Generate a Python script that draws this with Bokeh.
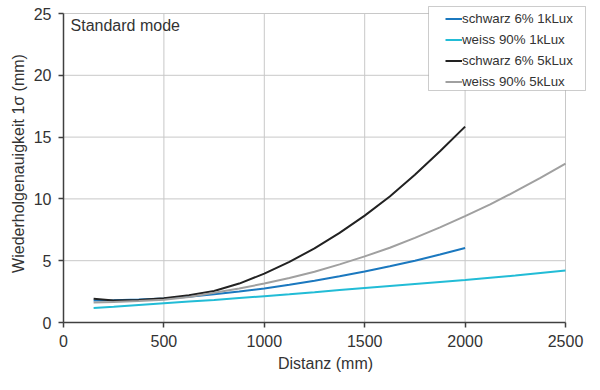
from bokeh.plotting import figure
from bokeh.models import Legend, LegendItem, Label, BoxAnnotation, Range1d, FixedTicker
from bokeh.embed import file_html
from bokeh.resources import INLINE

# Distances (mm)
dist_to_2000 = [150, 250, 375, 500, 625, 750, 875, 1000, 1125, 1250, 1375, 1500,
                1625, 1750, 1875, 2000]
dist_to_2500 = dist_to_2000 + [2125, 2250, 2375, 2500]

# Repeatability 1 sigma (mm)
schwarz_1k = [1.78, 1.80, 1.87, 1.95, 2.08, 2.28, 2.50, 2.76, 3.05, 3.38, 3.74, 4.13,
              4.55, 5.00, 5.50, 6.02]
weiss_1k = [1.18, 1.27, 1.41, 1.55, 1.69, 1.83, 1.98, 2.13, 2.28, 2.45, 2.63, 2.80,
            2.96, 3.12, 3.28, 3.44, 3.62, 3.80, 4.00, 4.20]
schwarz_5k = [1.92, 1.78, 1.82, 1.97, 2.20, 2.55, 3.15, 3.95, 4.90, 6.00, 7.25, 8.65,
              10.20, 11.95, 13.85, 15.85]
weiss_5k = [1.62, 1.65, 1.73, 1.85, 2.07, 2.40, 2.75, 3.15, 3.60, 4.10, 4.70, 5.35,
            6.05, 6.85, 7.70, 8.60, 9.55, 10.60, 11.70, 12.85]

series_names = ["schwarz 6% 1kLux", "weiss 90% 1kLux", "schwarz 6% 5kLux", "weiss 90% 5kLux"]
x_ticks = [0, 500, 1000, 1500, 2000, 2500]
y_ticks = [0, 5, 10, 15, 20, 25]

FONT = "Liberation Sans"
TXT = "#333333"

# frame: x 63..587 px, y 4..322 px; data 0..2500 maps to 63..565, 0..25 to 322..13
x_end = x_ticks[-1] * (587 - 63) / (565 - 63)
y_end = y_ticks[-1] * (322 - 4) / (322 - 13)

p = figure(width=592, height=382, output_backend="svg", toolbar_location=None,
           x_range=Range1d(0, x_end), y_range=Range1d(0, y_end),
           min_border_left=63, min_border_right=5, min_border_top=4, min_border_bottom=60)
p.outline_line_color = None
p.background_fill_color = "white"
p.xgrid.visible = False
p.ygrid.visible = False

# grid lines limited to the data area (0..2500, 0..25)
n_x = len(x_ticks)
n_y = len(y_ticks)
p.segment(x0=x_ticks, y0=[y_ticks[0]] * n_x, x1=x_ticks, y1=[y_ticks[-1]] * n_x,
          line_color="#c8c8c8", line_width=1)
p.segment(x0=[x_ticks[0]] * n_y, y0=y_ticks, x1=[x_ticks[-1]] * n_y, y1=y_ticks,
          line_color="#c8c8c8", line_width=1)

for ax in (p.xaxis[0], p.yaxis[0]):
    ax.axis_line_color = "#404040"
    ax.axis_line_width = 1.5
    ax.major_tick_line_color = "#404040"
    ax.major_tick_line_width = 1.5
    ax.major_tick_in = 0
    ax.major_tick_out = 5
    ax.minor_tick_line_color = None
    ax.major_label_text_font = FONT
    ax.major_label_text_font_size = "16px"
    ax.major_label_text_color = TXT
    ax.axis_label_text_font = FONT
    ax.axis_label_text_font_size = "16px"
    ax.axis_label_text_font_style = "normal"
    ax.axis_label_text_color = TXT

p.xaxis.ticker = FixedTicker(ticks=x_ticks)
p.yaxis.ticker = FixedTicker(ticks=y_ticks)
p.xaxis.bounds = (x_ticks[0], x_ticks[-1])
p.yaxis.bounds = (y_ticks[0], y_ticks[-1])
p.xaxis.axis_label = "Distanz (mm)"
p.yaxis.axis_label = "Wiederholgenauigkeit 1σ (mm)"
p.xaxis.major_label_standoff = 7
p.yaxis.major_label_standoff = 7
p.xaxis.axis_label_standoff = 5
p.yaxis.axis_label_standoff = 4

r1 = p.line(dist_to_2000, schwarz_1k, line_color="#1b78bf", line_width=2)
r2 = p.line(dist_to_2500, weiss_1k, line_color="#22bcd6", line_width=2)
r3 = p.line(dist_to_2000, schwarz_5k, line_color="#222222", line_width=2)
r4 = p.line(dist_to_2500, weiss_5k, line_color="#a0a0a0", line_width=2)

p.add_layout(Label(x=35, y=24.03, text="Standard mode", text_font=FONT,
                   text_font_size="16px", text_color=TXT, text_baseline="middle"))

box = BoxAnnotation(left=428, right=585, top=6, bottom=90,
                    left_units="canvas", right_units="canvas",
                    top_units="canvas", bottom_units="canvas",
                    fill_color="white", fill_alpha=1.0,
                    line_color="#555555", line_width=1)
p.add_layout(box)

legend = Legend(items=[LegendItem(label=n, renderers=[r]) for n, r in zip(series_names, [r1, r2, r3, r4])],
                location=(382, 230))
legend.border_line_color = None
legend.background_fill_alpha = 0
legend.padding = 0
legend.margin = 0
legend.spacing = 0
legend.label_height = 21
legend.glyph_height = 21
legend.glyph_width = 17
legend.label_standoff = 0
legend.label_text_font = FONT
legend.label_text_font_size = "13.3px"
legend.label_text_color = TXT
p.add_layout(legend)

open("out.html", "w").write(file_html(p, INLINE))
